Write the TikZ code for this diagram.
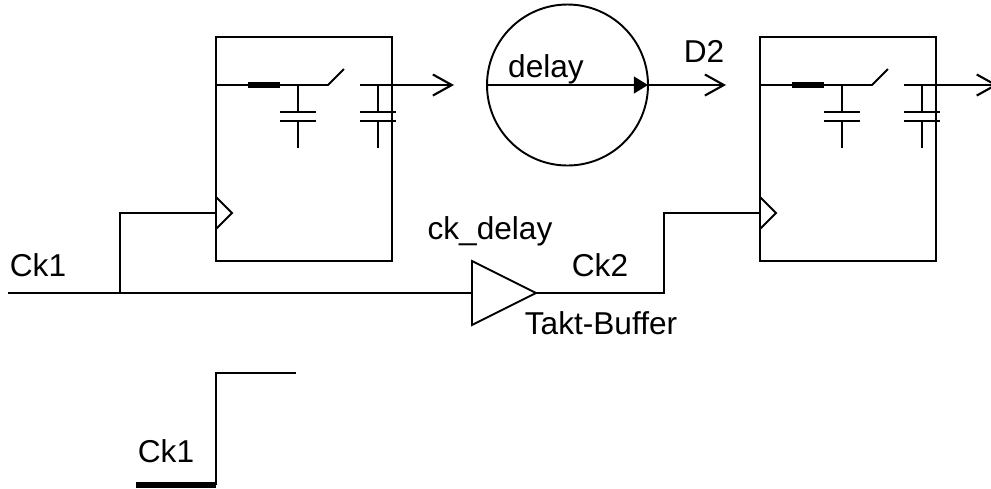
\documentclass[tikz,border=0pt]{standalone}
\usepackage{fontspec}
\setmainfont{Liberation Sans}
\usetikzlibrary{arrows.meta}
\tikzset{
 wire/.style={line width=1.1pt},
 thinwire/.style={line width=0.95pt},
 heavy/.style={line width=2.9pt},
 lbl/.style={inner sep=0pt,anchor=base,font=\fontsize{18}{20}\selectfont},
 outarrow/.style={line width=0.95pt,-{Straight Barb[length=10.8pt,width=12pt,line width=1.2pt]}},
}
\newcommand{\stage}[2]{%
 \begin{scope}[xshift=#1]
  \coordinate (#2in) at (216,85); \coordinate (#2ra) at (248,85); \coordinate (#2rb) at (280,85);
  \coordinate (#2sw) at (328,85); \coordinate (#2st) at (344,69);
  \coordinate (#2ou) at (360,85); \coordinate (#2ck) at (216,213);
  \node[wire,draw,minimum width=176*0.02cm,minimum height=224*0.02cm,inner sep=0pt,outer sep=0pt] (#2box) at (304,149) {};
  \draw[wire] (#2in) -- (#2ra); \draw[heavy] (#2ra) -- (#2rb);
  \draw[wire] (#2rb) -- (#2sw) -- (#2st);
  \draw[wire] (298,85) -- (298,112); \draw[wire] (280,112) -- (316,112);
  \draw[wire] (280,121) -- (316,121); \draw[wire] (298,121) -- (298,148);
  \draw[wire] (#2ou) -- (378,85);
  \draw[outarrow] (376,85) -- (454,85);
  \draw[thinwire] (378,85) -- (378,112); \draw[thinwire] (360,112) -- (396,112);
  \draw[thinwire] (360,121) -- (396,121); \draw[thinwire] (378,121) -- (378,148);
  \draw[wire] (216,197) -- (232,213) -- (216,229);
 \end{scope}}
\begin{document}
\begin{tikzpicture}[x=0.02cm,y=-0.02cm]
 \useasboundingbox (0,0) rectangle (991,488);
 \stage{0cm}{ffa}
 \stage{10.88cm}{ffb}
 % delay
 \node[wire,draw,circle,minimum size=161*0.02cm,inner sep=0pt,outer sep=0pt] (delaycirc) at (567.5,85) {};
 \draw[wire,-{Triangle[length=8pt,width=9.5pt]}] (delaycirc.west) -- (delaycirc.east);
 \coordinate (dout) at (726,85);
 \draw[outarrow,line width=1.1pt] (delaycirc.east) -- (dout);
 \node[lbl] (delaylbl) at (546,77) {delay};
 \node[lbl] (dtwolbl) at (704,62) {D2};
 % clock
 \coordinate (ckin) at (8,293); \coordinate (ckbr) at (120,293); \coordinate (ckup) at (120,213);
 \coordinate (bufa) at (472,261); \coordinate (bufb) at (472,325); \coordinate (bufout) at (536,293);
 \coordinate (bufin) at (472,293); \coordinate (ckr) at (664,293); \coordinate (ckq) at (664,213);
 \draw[wire] (ckin) -- (bufin);
 \draw[wire] (ckbr) -- (ckup) -- (ffack);
 \draw[wire] (bufa) -- (bufb) -- (bufout) -- cycle;
 \draw[wire] (bufout) -- (ckr) -- (ckq) -- (ffbck);
 \node[lbl] (ckone) at (38,276) {Ck1};
 \node[lbl] (ckdelay) at (490,239) {ck\_delay};
 \node[lbl] (cktwo) at (600,276) {Ck2};
 \node[lbl] (takt) at (601,334) {Takt-Buffer};
 % step
 \coordinate (stepa) at (136,485); \coordinate (stepb) at (216,485);
 \coordinate (stepc) at (216,373); \coordinate (stepd) at (296,373);
 \draw[heavy] (stepa) -- (stepb);
 \draw[wire] (stepb) -- (stepc) -- (stepd);
 \node[lbl] (cklow) at (166,462) {Ck1};
\end{tikzpicture}
\end{document}
